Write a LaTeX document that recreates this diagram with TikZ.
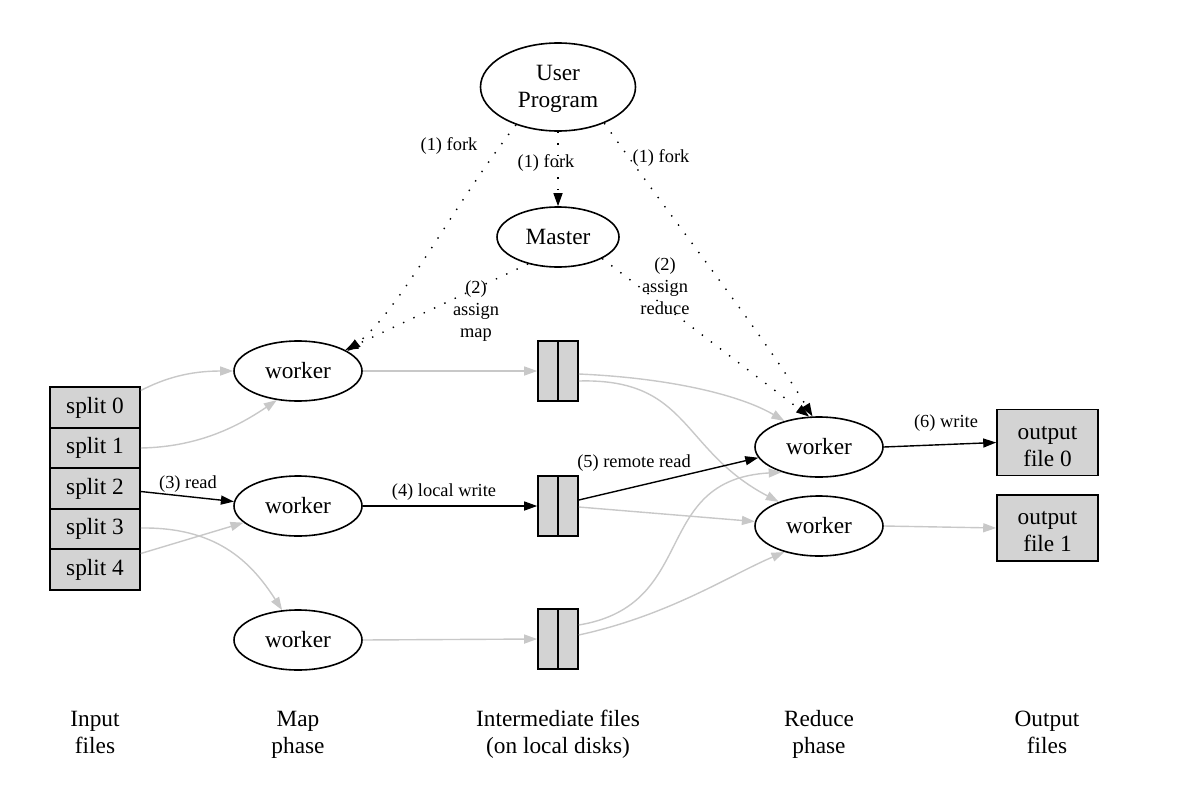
\documentclass[tikz,border=0pt]{standalone}
\usepackage{fontspec}
\setmainfont{Liberation Serif}
\usetikzlibrary{arrows.meta,shapes.geometric}
\definecolor{edgegray}{RGB}{200,200,200}
\definecolor{boxfill}{RGB}{211,211,211}
\newcommand\bigf{\fontsize{23.3}{27}\selectfont}
\newcommand\smallf{\fontsize{18.4}{22}\selectfont}
\begin{document}
\begin{tikzpicture}[x=1pt,y=-1pt,
  oval/.style={draw,ellipse,line width=1.6pt,inner sep=0pt,font=\bigf,align=center},
  wk/.style={oval,minimum width=128pt,minimum height=60pt},
  split/.style={draw,fill=boxfill,line width=1.6pt,minimum width=90pt,minimum height=40.5pt,inner sep=0pt,font=\bigf},
  half/.style={draw,fill=boxfill,line width=1.6pt,minimum width=20pt,minimum height=60pt,inner sep=0pt},
  outbox/.style={draw,fill=boxfill,line width=1.6pt,minimum width=101pt,minimum height=66pt,inner sep=0pt,font=\bigf,align=center},
  lbl/.style={font=\smallf,align=center,inner sep=0pt},
  captxt/.style={font=\bigf,align=center,inner sep=0pt,anchor=north},
  tip/.style={-{Triangle[length=13pt,width=9pt]}},
  blk/.style={tip,line width=1.4pt,black},
  gry/.style={tip,line width=1.4pt,edgegray},
  dot/.style={tip,line width=1.4pt,dash pattern=on 1.4pt off 10pt},
]
\useasboundingbox (0,0) rectangle (1191,808);

% nodes
\node[oval,minimum width=155pt,minimum height=88pt] (user) at (558,87) {\rule{0pt}{22.9pt}User\\\strut Program};
\node[oval,minimum width=122pt,minimum height=60pt] (master) at (558,237) {Master};

\node[wk] (m1) at (298,371) {worker};
\node[wk] (m2) at (298,506) {worker};
\node[wk] (m3) at (298,640) {worker};

\node[wk] (r1) at (819,447) {worker};
\node[wk] (r2) at (819,526) {worker};

\node[split] (s0) at (95,407.5) {split 0};
\node[split] (s1) at (95,448) {split 1};
\node[split] (s2) at (95,488.5) {split 2};
\node[split] (s3) at (95,529) {split 3};
\node[split] (s4) at (95,569.5) {split 4};

\node[half] (f1a) at (548,371) {};
\node[half] (f1b) at (568,371) {};
\node[half] (f2a) at (548,506) {};
\node[half] (f2b) at (568,506) {};
\node[half] (f3a) at (548,639) {};
\node[half] (f3b) at (568,639) {};

\node[outbox] (o0) at (1047.5,442.5) {\rule{0pt}{28.9pt}output\\\strut file 0};
\node[outbox] (o1) at (1047.5,528) {\rule{0pt}{28.9pt}output\\\strut file 1};

% dotted fork / assign edges
\draw[dot] (user.222) .. controls (450,210) and (400,310) .. (m1.22);
\draw[dot] (user.270) -- (master.north);
\draw[dot] (user.322) .. controls (680,230) and (760,330) .. (r1.102);
\draw[dot] (master.222) -- (m1.24);
\draw[dot] (master.334) -- (r1.108);

\node[lbl] at (449,146) {(1) fork};
\node[lbl] at (546,163) {(1) fork};
\node[lbl] at (661,158) {(1) fork};
\node[lbl] at (476,311) {(2)\\assign\\map};
\node[lbl] at (665,286) {(2)\\assign\\reduce};

% input -> map
\draw[gry] ([yshift=17pt]s0.east) .. controls (165,378) and (190,371) .. (m1.west);
\draw[gry] (s1.east) .. controls (200,447) and (240,425) .. (m1.234);
\draw[blk] ([yshift=-3pt]s2.east) -- (m2.176);
\draw[gry] ([yshift=1pt]s3.east) .. controls (215,527) and (250,560) .. (m3.118);
\draw[gry] ([yshift=16pt]s4.east) -- (m2.197);
\node[lbl] at (188,484) {(3) read};

% map -> intermediate
\draw[gry] (m1.east) -- (f1a.west);
\draw[blk] (m2.east) -- (f2a.west);
\draw[gry] (m3.east) -- (f3a.west);
\node[lbl] at (444,492) {(4) local write};

% intermediate -> reduce
\draw[gry] ([yshift=-3pt]f1b.east) .. controls (670,378) and (740,395) .. (r1.143);
\draw[gry] ([yshift=-10pt]f1b.east) .. controls (690,378) and (680,450) .. (r2.149);
\draw[blk] ([yshift=6pt]f2b.east) -- (r1.190);
\draw[gry] ([yshift=-1pt]f2b.east) -- (r2.176);
\draw[gry] ([yshift=14pt]f3b.east) .. controls (700,605) and (650,480) .. (r1.214);
\draw[gry] ([yshift=4pt]f3b.east) .. controls (670,615) and (730,575) .. (r2.217);
\node[lbl] at (634,463) {(5) remote read};

% reduce -> output
\draw[blk] (r1.east) -- (o0.west);
\draw[gry] (r2.east) -- (o1.west);
\node[lbl] at (946,423) {(6) write};

% captions
\node[captxt] (c1) at (95,707) {\strut Input\\\strut files};
\node[captxt] (c2) at (298,707) {\strut Map\\\strut phase};
\node[captxt] (c3) at (558,707) {\strut Intermediate files\\\strut (on local disks)};
\node[captxt] (c4) at (819,707) {\strut Reduce\\\strut phase};
\node[captxt] (c5) at (1047,707) {\strut Output\\\strut files};
\end{tikzpicture}
\end{document}
